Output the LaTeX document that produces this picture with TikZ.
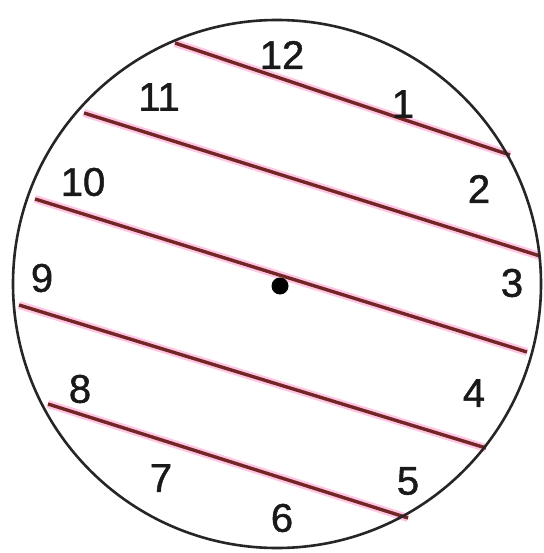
\documentclass[tikz,border=0pt]{standalone}
\usepackage{fontspec}
\setmainfont{Liberation Sans}
\newfontfamily\hourfont[FakeBold=1.2]{Liberation Sans}
\tikzset{
  rim/.style={draw=black!85, line width=2.6pt},
  chordglow/.style={draw=red!50!magenta!45, line width=8pt, opacity=0.5},
  chordline/.style={draw=black!65!red!85, line width=3.4pt},
  hour/.style={font=\hourfont\fontsize{40}{48}\selectfont, text=black!90, inner sep=0pt}
}
\begin{document}
\begin{tikzpicture}[x=1pt,y=-1pt]
\useasboundingbox (0,0) rectangle (543,553);
\fill[white] (0,0) rectangle (543,553);
% chords
\coordinate (a1) at (175,43);  \coordinate (b1) at (510,155);
\coordinate (a2) at (84,113);  \coordinate (b2) at (540,256);
\coordinate (a3) at (35,199);  \coordinate (b3) at (527,352);
\coordinate (a4) at (19,305);  \coordinate (b4) at (486,448);
\coordinate (a5) at (48,404);  \coordinate (b5) at (408,518);
\foreach \i in {1,...,5}{
  \draw[chordglow] (a\i) -- (b\i);
}
\foreach \i in {1,...,5}{
  \draw[chordline] (a\i) -- (b\i);
}
% clock rim
\draw[rim] (277,284) circle (264);
% centre dot
\fill[black] (280,286) circle (8.5);
% hour labels
\node[hour] (h12) at (282,55) {12};
\node[hour] (h1) at (403,104) {1};
\node[hour] (h2) at (479,189) {2};
\node[hour] (h3) at (512,283) {3};
\node[hour] (h4) at (474,393) {4};
\node[hour] (h5) at (408,481) {5};
\node[hour] (h6) at (282,518) {6};
\node[hour] (h7) at (161,478) {7};
\node[hour] (h8) at (80,389) {8};
\node[hour] (h9) at (42,278) {9};
\node[hour] (h10) at (83,182) {10};
\node[hour] (h11) at (159,97) {11};
\end{tikzpicture}
\end{document}
